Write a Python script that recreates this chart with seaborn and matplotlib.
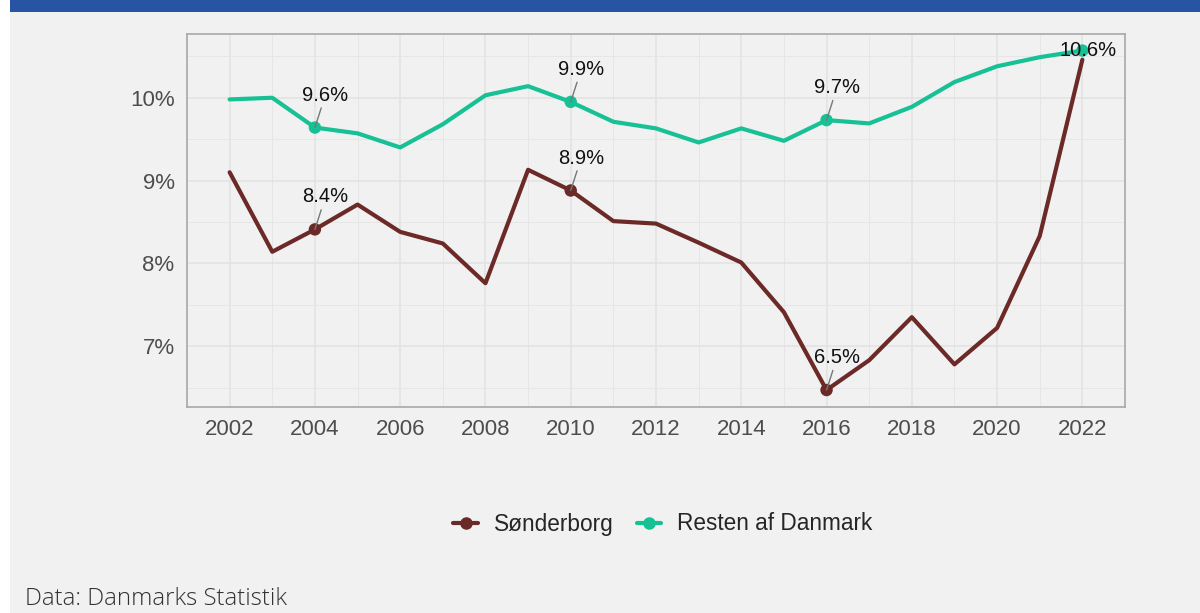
import matplotlib
matplotlib.use("Agg")
import matplotlib.pyplot as plt
import seaborn as sns
import pandas as pd
import numpy as np
from matplotlib.patches import Rectangle
from matplotlib.lines import Line2D
from matplotlib.ticker import MultipleLocator, FuncFormatter

years = list(range(2002, 2023))
sonderborg = [9.10, 8.14, 8.41, 8.71, 8.38, 8.24, 7.76, 9.13, 8.88, 8.51, 8.48,
              8.25, 8.01, 7.41, 6.47, 6.83, 7.35, 6.78, 7.22, 8.33, 10.46]
resten = [9.98, 10.00, 9.64, 9.57, 9.40, 9.68, 10.03, 10.14, 9.95, 9.71, 9.63,
          9.46, 9.63, 9.48, 9.73, 9.69, 9.89, 10.19, 10.38, 10.49, 10.57]
series_names = ["Sønderborg", "Resten af Danmark"]
colors = ["#6B2A27", "#17C195"]
label_years = {"Sønderborg": [2004, 2010, 2016], "Resten af Danmark": [2004, 2010, 2016, 2022]}
caption = "Data: Danmarks Statistik"

df = pd.DataFrame({
    "year": years * 2,
    "value": sonderborg + resten,
    "series": [series_names[0]] * len(years) + [series_names[1]] * len(years),
})
pts = pd.concat([df[(df.series == s) & (df.year.isin(label_years[s]))] for s in series_names])

sns.set_theme(style="white")
plt.rcParams["font.family"] = ["Liberation Sans", "DejaVu Sans"]

fig = plt.figure(figsize=(12, 6.13), dpi=100)
fig.patch.set_facecolor("white")
bg = "#F1F1F1"
fig.patches.append(Rectangle((10 / 1200, 0), 1 - 10 / 1200, 1 - 12 / 613, transform=fig.transFigure,
                             facecolor=bg, edgecolor="none", zorder=-10))
fig.patches.append(Rectangle((10 / 1200, 1 - 12 / 613), 1 - 10 / 1200, 12 / 613, transform=fig.transFigure,
                             facecolor="#2755A3", edgecolor="none", zorder=-10))

ax = fig.add_axes([187 / 1200, 1 - 407 / 613, (1125 - 187) / 1200, (407 - 34) / 613])
ax.set_facecolor(bg)

palette = dict(zip(series_names, colors))
sns.lineplot(data=df, x="year", y="value", hue="series", palette=palette, lw=3.0,
             ax=ax, legend=False, zorder=3)
sns.scatterplot(data=pts, x="year", y="value", hue="series", palette=palette, s=80,
                edgecolor="none", ax=ax, legend=False, zorder=4)

for _, r in pts.iterrows():
    if r.year == 2022:
        ax.annotate(f"{r.value:.1f}%", (r.year, r.value), xytext=(4, 0), textcoords="offset points",
                    ha="center", va="center", fontsize=14.5, color="#111111", zorder=5)
    else:
        ax.annotate(f"{r.value:.1f}%", (r.year, r.value), xytext=(7.5, 16.5), textcoords="offset points",
                    ha="center", va="bottom", fontsize=14.5, color="#111111", zorder=5,
                    arrowprops=dict(arrowstyle="-", color="#777777", lw=1.0, shrinkA=0, shrinkB=0))

ax.set_xlim(2001, 2023)
ax.set_ylim(6.265, 10.77)
ax.xaxis.set_major_locator(MultipleLocator(2))
ax.xaxis.set_minor_locator(MultipleLocator(1))
ax.yaxis.set_major_locator(MultipleLocator(1))
ax.yaxis.set_minor_locator(MultipleLocator(0.5))
ax.yaxis.set_major_formatter(FuncFormatter(lambda v, p: f"{v:.0f}%"))
ax.grid(which="major", color="#E2E2E2", lw=1.1, zorder=0)
ax.grid(which="minor", color="#E6E6E6", lw=0.7, zorder=0)
ax.set_axisbelow(True)
ax.tick_params(which="both", length=0, labelsize=16, labelcolor="#4D4D4D")
ax.tick_params(axis="x", pad=8.5)
ax.tick_params(axis="y", pad=9)
ax.set_xlabel("")
ax.set_ylabel("")
for sp in ax.spines.values():
    sp.set_visible(True)
    sp.set_color("#A8A8A8")
    sp.set_linewidth(1.2)

handles = [Line2D([0], [0], color=c, lw=3, marker="o", markersize=8) for c in colors]
fig.legend(handles, series_names, loc="center", bbox_to_anchor=(663 / 1200, 1 - 524 / 613),
           ncol=2, frameon=False, fontsize=16.3, handlelength=1.1, handletextpad=0.7,
           columnspacing=1.0)

fig.text(25 / 1200, 1 - 599 / 613, caption, ha="left", va="center", fontsize=17.3,
         color="#333333", family=["Open Sans", "DejaVu Sans"], fontweight=300)

fig.savefig("out.png", dpi=100, facecolor=fig.get_facecolor())
